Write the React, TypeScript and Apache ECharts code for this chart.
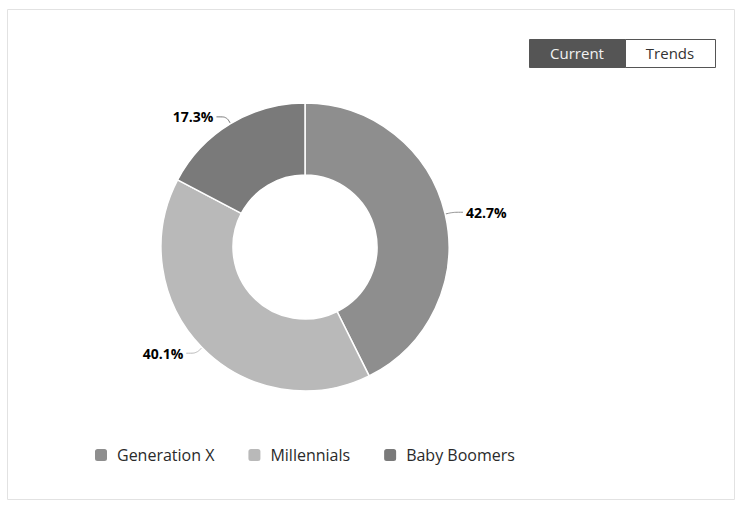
import React, { useEffect, useRef } from "react";
import * as echarts from "echarts";

const categories = ["Generation X", "Millennials", "Baby Boomers"];
const values = [42.7, 40.1, 17.3];
const colors = ["#8e8e8e", "#b9b9b9", "#7a7a7a"];
const buttons = ["Current", "Trends"];

export default function App() {
  const ref = useRef<HTMLDivElement>(null);
  useEffect(() => {
    if (!ref.current) return;
    const chart = echarts.init(ref.current, null, { renderer: "svg" });
    const font = "'Open Sans', 'Noto Sans', sans-serif";
    chart.setOption({
      animation: false,
      color: colors,
      textStyle: { fontFamily: font },
      legend: {
        data: categories,
        left: 93,
        top: 447,
        padding: 0,
        icon: "roundRect",
        itemWidth: 14,
        itemHeight: 14,
        itemGap: 32,
        textStyle: { fontSize: 16, color: "#2a2a2a", fontFamily: font, padding: [0, 0, 0, 4] },
      },
      graphic: [
        {
          type: "rect",
          shape: { x: 7.5, y: 9.5, width: 727, height: 490 },
          style: { fill: "none", stroke: "#e2e2e2", lineWidth: 1 },
          silent: true,
        },
        {
          type: "rect",
          shape: { x: 529.5, y: 39.5, width: 96, height: 28 },
          style: { fill: "#555", stroke: "#555", lineWidth: 1 },
        },
        {
          type: "rect",
          shape: { x: 625.5, y: 39.5, width: 90, height: 28 },
          style: { fill: "#fff", stroke: "#555", lineWidth: 1 },
        },
        {
          type: "text",
          x: 577,
          y: 53,
          style: {
            text: buttons[0],
            fill: "#f2f2f2",
            fontSize: 15,
            fontFamily: font,
            align: "center",
            verticalAlign: "middle",
          },
        },
        {
          type: "text",
          x: 670,
          y: 53,
          style: {
            text: buttons[1],
            fill: "#333",
            fontSize: 15,
            fontFamily: font,
            align: "center",
            verticalAlign: "middle",
          },
        },
      ],
      series: [
        {
          type: "pie",
          center: [305, 247],
          radius: [72, 144],
          startAngle: 90,
          clockwise: true,
          avoidLabelOverlap: false,
          data: categories.map((name, i) => ({ name, value: values[i] })),
          itemStyle: { borderColor: "#fff", borderWidth: 1.5 },
          label: {
            show: true,
            position: "outside",
            formatter: (p: any) => values[p.dataIndex].toFixed(1) + "%",
            fontSize: 14,
            fontWeight: "bold",
            color: "#000",
            fontFamily: font,
            distanceToLabelLine: 3,
          },
          labelLine: {
            show: true,
            length: 8,
            length2: 10,
            smooth: 0.3,
            lineStyle: { width: 1 },
          },
          emphasis: { disabled: true },
        },
      ],
    });
    return () => chart.dispose();
  }, []);
  return (
    <div
      ref={ref}
      style={{ position: "absolute", left: 0, top: 0, width: 739, height: 508, background: "#fff" }}
    />
  );
}
